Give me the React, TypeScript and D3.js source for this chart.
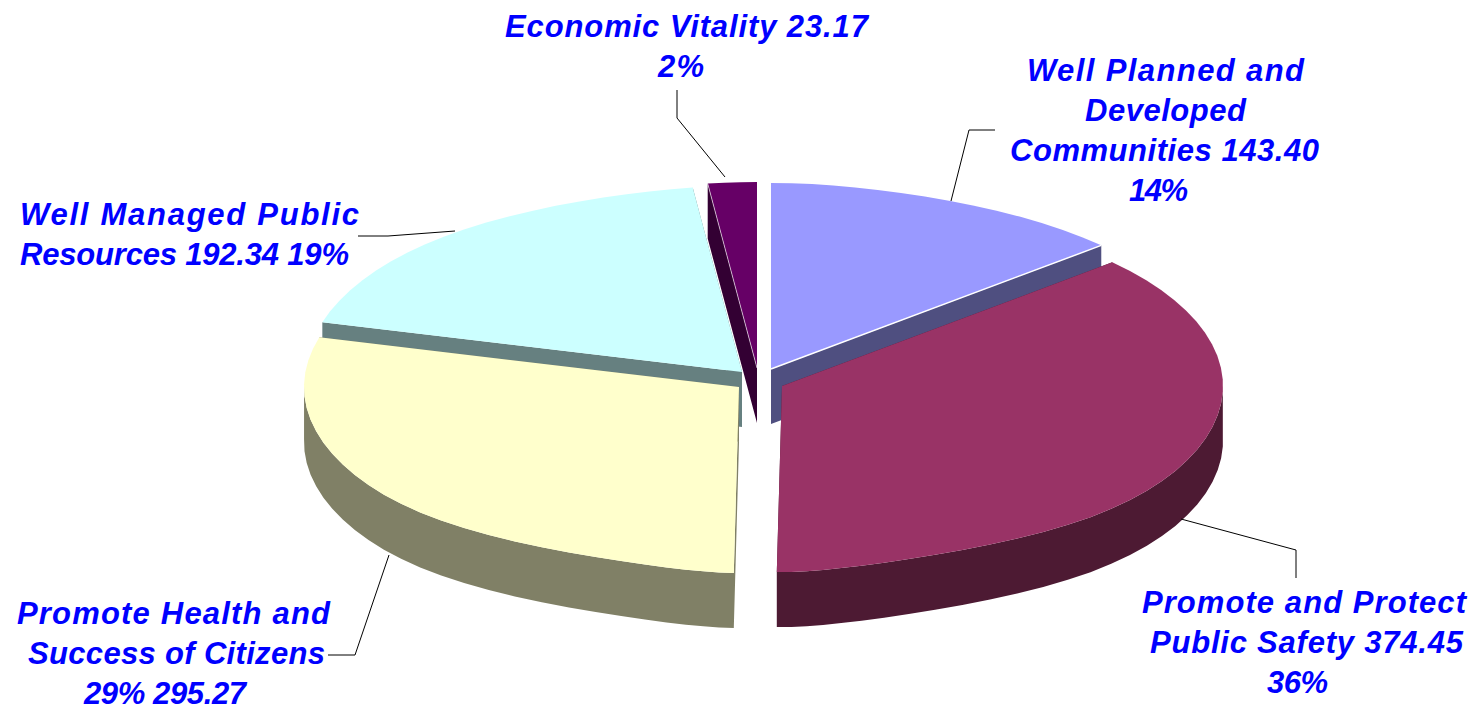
import React from "react";
import * as d3 from "d3";

const categories = [
  "Well Planned and Developed Communities",
  "Promote and Protect Public Safety",
  "Promote Health and Success of Citizens",
  "Well Managed Public Resources",
  "Economic Vitality",
];
const values = [143.4, 374.45, 295.27, 192.34, 23.17];
const topColors = ["#9999ff", "#993366", "#ffffcc", "#ccffff", "#660066"];
const wallColors = ["#4f4f80", "#4d1a33", "#808066", "#668080", "#330033"];

// label lines: text, left x, baseline y, width
const labelLines: [string, number, number, number][] = [
  ["Economic Vitality 23.17", 505, 37, 363],
  ["2%", 658, 77, 46],
  ["Well Planned and", 1027, 81, 277],
  ["Developed", 1085, 121, 161],
  ["Communities 143.40", 1010, 161, 309],
  ["14%", 1129, 201, 59],
  ["Well Managed Public", 20, 225, 339],
  ["Resources 192.34 19%", 20, 265, 329],
  ["Promote Health and", 17, 624, 313],
  ["Success of Citizens", 28, 664, 297],
  ["29% 295.27", 84, 704, 162],
  ["Promote and Protect", 1142, 613, 324],
  ["Public Safety 374.45", 1150, 653, 313],
  ["36%", 1267, 693, 61],
];

const leaders: [number, number][][] = [
  [[951, 201], [969, 130], [995, 130]],
  [[1181, 519], [1296, 550], [1296, 578]],
  [[389, 555], [355, 655], [328, 655]],
  [[455, 231], [388, 236], [358, 236]],
  [[725, 177], [677, 118], [677, 90]],
];

// apex of each exploded slice, in category order
const apexes: [number, number][] = [
  [771, 369],
  [782, 386],
  [739, 387],
  [742, 372],
  [757, 368],
];
const drawOrder = [0, 3, 4, 1, 2];
const DEPTH = 55;

function rim(theta: number): [number, number] {
  const c = Math.cos(theta);
  const s = Math.sin(theta);
  const c2 = c * c;
  const c8 = c2 * c2 * c2 * c2;
  let f = 1 - 0.16 * c8 - 0.05 * c2;
  if (c < 0) f *= 1 - 0.3 * c8;
  const rx = s > 0 ? 441 : 435;
  return [rx * s * f, -c * (198 - 12 * c2)];
}

const arcs = d3
  .pie<number>()
  .sort(null)
  .startAngle(0)
  .endAngle(2 * Math.PI)(values);

const line = d3.line();

type Pt = [number, number];

function wallPath(poly: Pt[], thetas: number[]): string {
  const parts: string[] = [];
  poly.forEach((p, k) => {
    const q = poly[(k + 1) % poly.length];
    // back rim edges sit entirely behind the top face
    if (k >= 1 && k <= thetas.length - 1) {
      const mid = (thetas[k - 1] + thetas[k]) / 2;
      if (Math.cos(mid) > 0.02) return;
    }
    // keep one winding so that overlapping quads all fill
    const quad: Pt[] = q[0] >= p[0]
      ? [p, q, [q[0], q[1] + DEPTH], [p[0], p[1] + DEPTH]]
      : [q, p, [p[0], p[1] + DEPTH], [q[0], q[1] + DEPTH]];
    parts.push(line(quad) + "Z");
  });
  return parts.join("");
}

export default function App() {
  return (
    <svg
      width={1473}
      height={708}
      style={{ position: "absolute", left: 0, top: 0, background: "#fff" }}
    >
      {drawOrder.map((i) => {
        const a = arcs[i];
        const [ax, ay] = apexes[i];
        const n = Math.max(2, Math.ceil((a.endAngle - a.startAngle) / (3.5 * Math.PI / 180)));
        const thetas = d3.range(n + 1).map((k) => a.startAngle + ((a.endAngle - a.startAngle) * k) / n);
        const rimPts = thetas.map((t): Pt => {
          const [x, y] = rim(t);
          return [ax + x, ay + y];
        });
        const poly: Pt[] = [[ax, ay], ...rimPts];
        const highlight: Pt | null = i === 0 ? rimPts[rimPts.length - 1] : i === 4 ? rimPts[0] : null;
        return (
          <g key={categories[i]}>
            <path d={wallPath(poly, thetas)} fill={wallColors[i]} />
            <path d={line(poly) + "Z"} fill={topColors[i]} />
            {highlight && (
              <path
                d={line([[ax, ay], highlight]) ?? ""}
                fill="none"
                stroke="#fff"
                strokeOpacity={i === 0 ? 1 : 0.6}
                strokeWidth={i === 0 ? 1.5 : 1}
              />
            )}
          </g>
        );
      })}
      {leaders.map((pts, i) => (
        <path key={i} d={line(pts) ?? ""} fill="none" stroke="#000" strokeWidth={1} />
      ))}
      {labelLines.map(([t, x, y, w]) => (
        <text
          key={t}
          x={x}
          y={y}
          textLength={w}
          lengthAdjust="spacing"
          fontFamily="'Liberation Sans', Arial, sans-serif"
          fontWeight="bold"
          fontStyle="italic"
          fontSize={31}
          fill="#0000ff"
        >
          {t}
        </text>
      ))}
    </svg>
  );
}
